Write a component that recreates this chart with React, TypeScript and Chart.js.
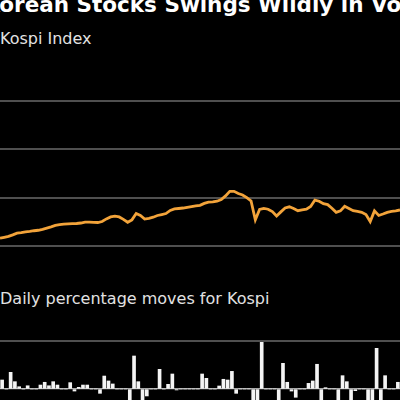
import React, { useEffect, useRef } from "react";
import { Chart, registerables } from "chart.js";

Chart.register(...registerables);

const titleText = "Korean Stocks Swings Wildly in Volatile Trading";
const lineTitle = "Kospi Index";
const barTitle = "Daily percentage moves for Kospi";

// Kospi index level, one point per trading day
const kospiIndex = [
  1432, 1436, 1440, 1446, 1453, 1455, 1458, 1460, 1463, 1465,
  1469, 1474, 1479, 1485, 1488, 1490, 1491, 1492, 1493, 1495,
  1499, 1499, 1498, 1497, 1501, 1512, 1520, 1523, 1520, 1510,
  1498, 1508, 1534, 1526, 1511, 1514, 1519, 1526, 1530, 1534,
  1547, 1553, 1555, 1557, 1560, 1563, 1566, 1568, 1576, 1581,
  1582, 1585, 1592, 1607, 1626, 1626, 1617, 1611, 1600, 1586,
  1508, 1551, 1555, 1552, 1542, 1524, 1541, 1557, 1562, 1555,
  1546, 1549, 1552, 1563, 1590, 1585, 1575, 1571, 1556, 1539,
  1545, 1564, 1555, 1546, 1543, 1539, 1530, 1501, 1545, 1526,
  1532, 1539, 1543, 1545, 1549,
];
const indexTicks = [1400, 1600, 1800, 2000];

// Daily percentage moves
const dailyMoves = [
  0.75, 0, 1.39, 0.61, 0.19, 0, 0.27, 0, 0, 0.33,
  0.56, 0.27, 0.61, 0.33, 0, 0, 0.53, -0.17, 0.14, 0.33,
  0.33, 0, 0, -0.36, 1.08, 0.67, 0.42, 0, 0, 0,
  -1.6, 2.75, 0.61, -1.4, -0.58, 0, 0, 1.64, 0, 0.39,
  1.25, -0.08, 0, 0, 0, 0, 0, 1.25, 0.89, 0,
  0, 0.25, 0.81, 0.75, 1.47, -0.36, 0, 0, 0, -1.8,
  -1.5, 3.89, 0, 0, 0, -1.3, 2.14, 0.56, -0.17, -0.69,
  0, 0, 0.47, 0.67, 2.06, -1.4, 0.11, 0, 0, -1.5,
  1.11, 0.61, -1.2, -0.14, 0, 0, -1.6, -1.3, 3.39, -1.4,
  1.11, 0, 0, 0.56,
];
const moveTicks = [0, 4];

const GRID = "#4f4f4f";

function LineChart() {
  const ref = useRef<HTMLCanvasElement | null>(null);
  useEffect(() => {
    if (!ref.current) return;
    const chart = new Chart(ref.current, {
      type: "line",
      data: {
        labels: kospiIndex.map((_, i) => String(i)),
        datasets: [
          {
            data: kospiIndex,
            borderColor: "#f2a33a",
            borderWidth: 2.8,
            pointRadius: 0,
            tension: 0,
            fill: false,
          },
        ],
      },
      options: {
        animation: false,
        responsive: false,
        events: [],
        layout: { padding: 0, autoPadding: false },
        plugins: { legend: { display: false }, tooltip: { enabled: false } },
        scales: {
          x: { display: false, offset: false },
          y: {
            display: true,
            min: 1342,
            max: 2045,
            border: { display: false },
            grid: { color: GRID, lineWidth: 2, drawTicks: false },
            ticks: { display: false, stepSize: 200, includeBounds: false },
            afterBuildTicks: (scale: any) => {
              scale.ticks = indexTicks.map((v) => ({ value: v }));
            },
            afterFit: (scale: any) => {
              scale.width = 0;
            },
          },
        },
      },
    });
    return () => chart.destroy();
  }, []);
  return (
    <canvas
      ref={ref}
      width={400}
      height={170}
      style={{ position: "absolute", left: 0, top: 90, width: 400, height: 170 }}
    />
  );
}

function BarChart() {
  const ref = useRef<HTMLCanvasElement | null>(null);
  useEffect(() => {
    if (!ref.current) return;
    const chart = new Chart(ref.current, {
      type: "bar",
      data: {
        labels: dailyMoves.map((_, i) => String(i)),
        datasets: [
          {
            data: dailyMoves,
            backgroundColor: "#f4f4f4",
            borderWidth: 0,
            barThickness: 3,
          },
        ],
      },
      options: {
        animation: false,
        responsive: false,
        events: [],
        layout: { padding: 0, autoPadding: false },
        plugins: { legend: { display: false }, tooltip: { enabled: false } },
        scales: {
          x: { display: false, offset: true },
          y: {
            display: true,
            min: -0.9167,
            max: 5.75,
            border: { display: false },
            grid: {
              drawTicks: false,
              color: (ctx: any) => (ctx.tick && ctx.tick.value === 0 ? "#a8a8a8" : GRID),
              lineWidth: (ctx: any) => (ctx.tick && ctx.tick.value === 0 ? 1.2 : 2),
            },
            ticks: { display: false, stepSize: 4, includeBounds: false },
            afterBuildTicks: (scale: any) => {
              scale.ticks = moveTicks.map((v) => ({ value: v }));
            },
            afterFit: (scale: any) => {
              scale.width = 0;
            },
          },
        },
      },
    });
    return () => chart.destroy();
  }, []);
  return (
    <canvas
      ref={ref}
      width={400}
      height={80}
      style={{ position: "absolute", left: 0, top: 320, width: 400, height: 80 }}
    />
  );
}

export default function App() {
  const font = "'DejaVu Sans', Verdana, sans-serif";
  return (
    <div
      style={{
        position: "fixed",
        left: 0,
        top: 0,
        width: 400,
        height: 400,
        background: "#000",
        overflow: "hidden",
        fontFamily: font,
      }}
    >
      <div
        style={{
          position: "absolute",
          left: -17,
          top: -6,
          fontSize: 21.5,
          lineHeight: "21px",
          fontWeight: "bold",
          color: "#ffffff",
          whiteSpace: "nowrap",
        }}
      >
        {titleText}
      </div>
      <div
        style={{
          position: "absolute",
          left: 0,
          top: 30.5,
          fontSize: 16,
          lineHeight: "16px",
          color: "#e2e2e2",
          whiteSpace: "nowrap",
        }}
      >
        {lineTitle}
      </div>
      <LineChart />
      <div
        style={{
          position: "absolute",
          left: 0,
          top: 290.5,
          fontSize: 16,
          lineHeight: "16px",
          color: "#e2e2e2",
          whiteSpace: "nowrap",
        }}
      >
        {barTitle}
      </div>
      <BarChart />
    </div>
  );
}
